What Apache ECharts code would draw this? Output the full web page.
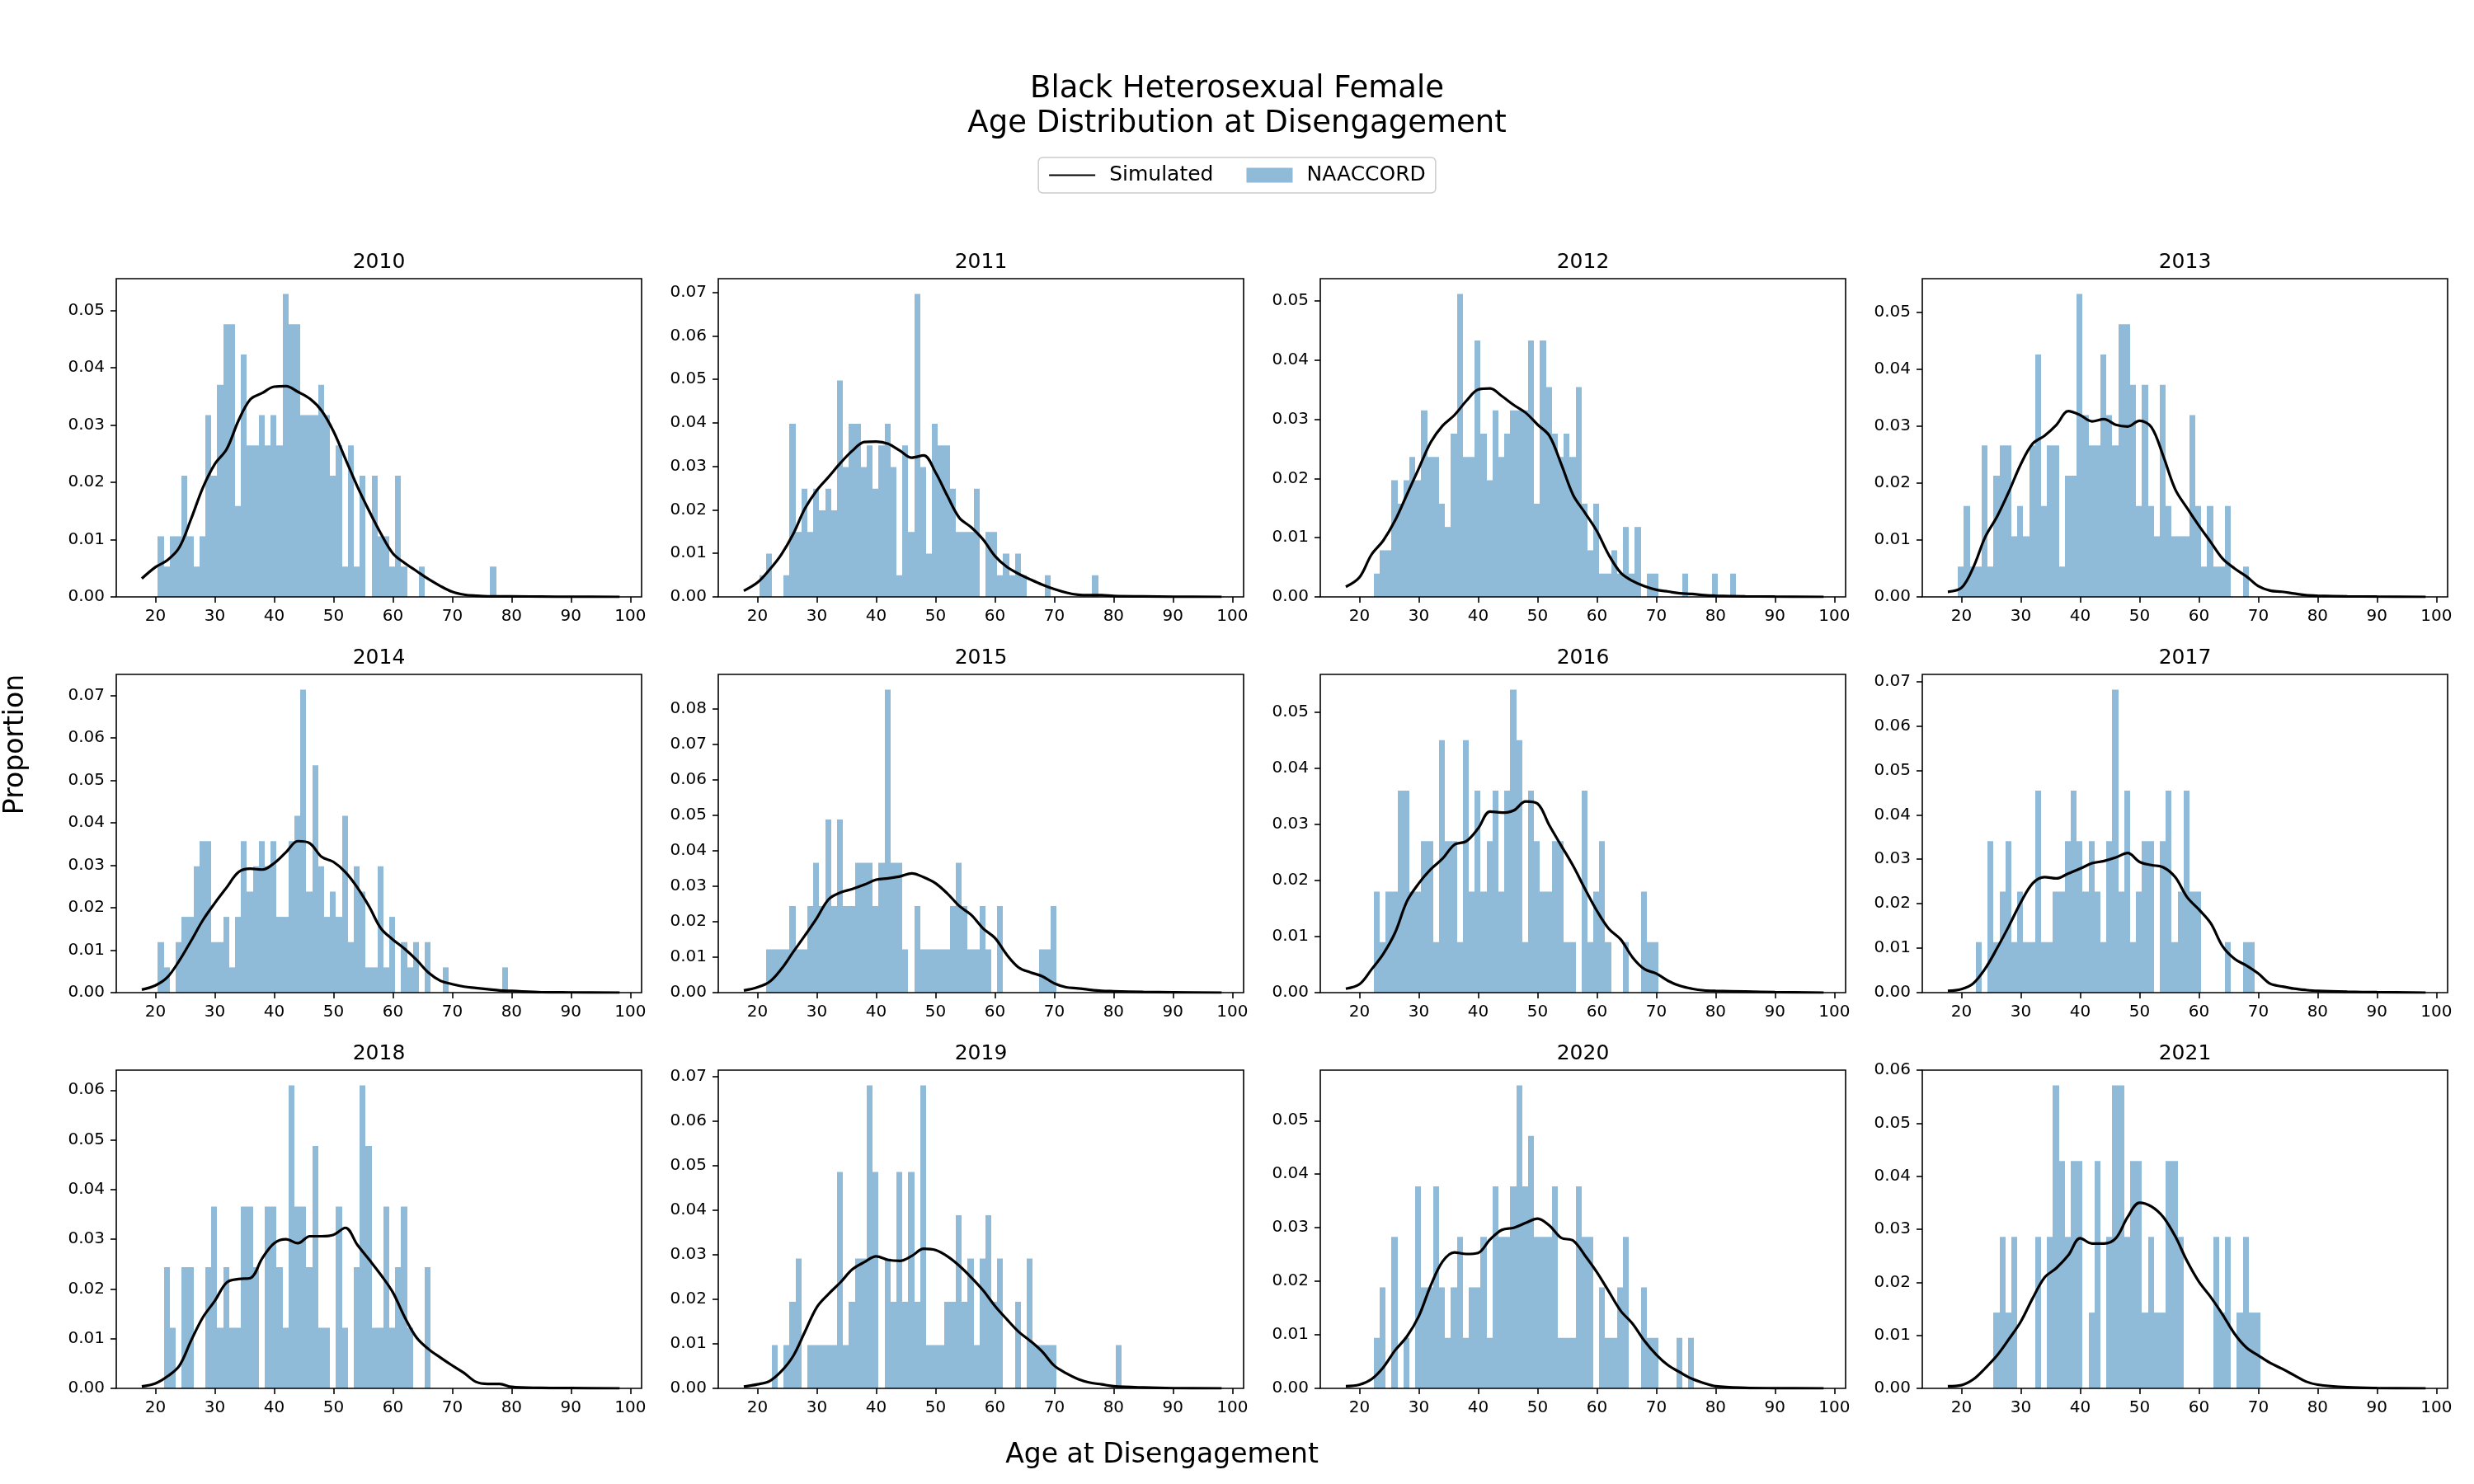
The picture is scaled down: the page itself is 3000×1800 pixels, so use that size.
<!doctype html>
<html lang="en">
<head>
<meta charset="UTF-8">
<title>Age Distribution at Disengagement</title>
<script src="https://cdn.jsdelivr.net/npm/echarts@6/dist/echarts.min.js"></script>
<style>
  html, body { margin: 0; padding: 0; background: #fff; }
  #chart { width: 3000px; height: 1800px; }
</style>
</head>
<body>
<div id="chart"></div>
<script>
// panels, one per year
var years = ['2010', '2011', '2012', '2013', '2014', '2015', '2016', '2017', '2018', '2019', '2020', '2021'];
// left edge of the first 1-year bin for each year
var binStart = [20.4, 20.4, 22.4, 19.4, 20.4, 21.4, 22.4, 22.4, 21.4, 22.4, 22.4, 25.4];
var binWidth = 1;
var ageTicks = [20, 30, 40, 50, 60, 70, 80, 90, 100];
var yTickTop = [0.05, 0.07, 0.05, 0.05, 0.07, 0.08, 0.05, 0.07, 0.06, 0.07, 0.05, 0.06];

// NAACCORD histogram counts per bin
var counts2010 = [2,1,2,2,4,2,1,2,6,4, 7,9,9,3,8,5,5,6,5,6, 5,10,9,9,6,6,6,7,6,4, 5,1,5,1,4,0,4,2,2,1, 4,1,0,0,1,0,0,0,0,0, 0,0,0,0,0,0,1];
var counts2011 = [1,2,0,0,1,8,3,5,3,5, 4,5,4,10,6,8,8,6,7,5, 7,8,6,1,7,3,14,6,2,8, 7,7,5,3,3,3,5,0,3,3, 1,2,1,2,1,0,0,0,1,0, 0,0,0,0,0,0,1];
var counts2012 = [1,2,2,5,4,5,6,5,8,6, 6,4,3,7,13,6,6,11,7,5, 8,6,7,8,8,8,11,4,11,9, 7,6,7,6,9,4,2,4,1,1, 2,1,3,1,3,0,1,1,0,0, 0,0,1,0,0,0,0,1,0,0, 1];
var counts2013 = [1,3,1,1,5,1,4,5,5,2, 3,2,5,8,3,5,5,1,4,4, 10,6,5,5,8,6,5,9,9,7, 3,7,3,2,7,3,2,2,2,6, 3,1,3,1,1,3,0,0,1];
var counts2014 = [2,1,0,2,3,3,5,6,6,2, 2,3,1,3,6,4,5,6,5,6, 3,3,6,7,12,4,9,5,3,4, 3,7,2,5,4,1,1,5,1,3, 0,2,1,2,0,2,0,0,1,0, 0,0,0,0,0,0,0,0,1];
var counts2015 = [1,1,1,1,2,1,1,2,3,2, 4,2,4,2,2,3,3,3,2,3, 7,3,3,1,0,2,1,1,1,1, 1,2,3,2,1,1,2,1,0,2, 0,0,0,0,0,0,1,1,2];
var counts2016 = [2,1,2,2,4,4,2,2,3,3, 1,5,3,3,1,5,2,4,2,3, 4,2,4,6,5,1,4,3,2,2, 3,3,1,1,0,4,1,2,3,1, 0,0,1,0,0,2,1,1];
var counts2017 = [1,0,3,1,2,3,1,2,1,1, 4,1,1,2,2,3,4,3,2,3, 2,1,3,6,2,4,1,2,3,3, 0,3,4,1,2,4,2,2,0,0, 0,0,1,0,0,1,1];
var counts2018 = [2,1,0,2,2,0,0,2,3,1, 2,1,1,3,3,2,0,3,3,2, 1,5,3,3,2,4,1,1,0,3, 1,0,2,5,4,1,1,3,1,2, 3,1,0,0,2];
var counts2019 = [1,0,1,2,3,0,1,1,1,1, 1,5,1,2,3,3,7,5,0,3, 2,5,2,5,2,7,1,1,1,2, 2,4,2,3,1,3,4,2,3,0, 0,2,0,3,1,1,1,1,0,0, 0,0,0,0,0,0,0,0,1];
var counts2020 = [1,2,0,3,0,1,0,4,2,2, 4,2,1,2,3,1,2,2,3,1, 4,3,3,4,6,4,5,3,3,3, 4,1,1,1,4,3,3,0,2,1, 1,2,3,0,0,2,1,1,0,0, 0,1,0,1];
var counts2021 = [1,2,1,2,0,0,0,2,0,2, 4,3,2,3,3,0,1,3,0,2, 4,4,2,3,3,1,2,1,1,3, 3,2,0,0,0,0,0,2,1,2, 0,1,2,1,1];

// simulated density curve, read at these ages
var kdeAges = [17.7, 20, 22, 24, 26, 28, 30, 32, 34, 36, 38, 40, 42, 44, 46, 48, 50, 52, 54, 56, 58, 60, 62, 64, 66, 68, 70, 72, 74, 76, 78, 80, 85, 90, 98.2];
var kde2010 = [0.0032,0.0052,0.0064,0.0086,0.0136,0.0191,0.0232,0.0258,0.0308,0.0345,0.0356,0.0367,0.0368,0.0358,0.0346,0.0325,0.0289,0.0241,0.0193,0.0150,0.0110,0.0076,0.0059,0.0045,0.0031,0.0019,0.0009,0.0004,0.0002,0.0001,0.0001,0.0001,0.00005,0.00002,0];
var kde2011 = [0.0014,0.0033,0.0062,0.0097,0.0144,0.0203,0.0245,0.0276,0.0308,0.0336,0.0356,0.0357,0.0352,0.0336,0.0320,0.0325,0.0286,0.0232,0.0182,0.0160,0.0132,0.0094,0.0069,0.0053,0.0040,0.0028,0.0018,0.0010,0.0005,0.0004,0.0004,0.0002,0.0001,0.00003,0];
var kde2012 = [0.0017,0.0033,0.0071,0.0095,0.0129,0.0173,0.0217,0.0261,0.0289,0.0307,0.0331,0.0350,0.0352,0.0339,0.0324,0.0311,0.0291,0.0272,0.0224,0.0172,0.0142,0.0111,0.0071,0.0041,0.0027,0.0018,0.0012,0.0009,0.0006,0.0005,0.0003,0.0002,0.0001,0.00005,0];
var kde2013 = [0.0009,0.0016,0.0052,0.0105,0.0141,0.0185,0.0233,0.0269,0.0283,0.0302,0.0326,0.0319,0.0308,0.0312,0.0302,0.0299,0.0309,0.0298,0.0247,0.0189,0.0156,0.0125,0.0096,0.0067,0.0050,0.0036,0.0019,0.0011,0.0009,0.0006,0.0003,0.0002,0.0001,0.00005,0];
var kde2014 = [0.0007,0.0017,0.0036,0.0075,0.0122,0.0171,0.0211,0.0248,0.0284,0.0292,0.0290,0.0305,0.0331,0.0357,0.0352,0.0320,0.0308,0.0284,0.0248,0.0203,0.0151,0.0125,0.0103,0.0077,0.0047,0.0028,0.0020,0.0014,0.0011,0.0008,0.0005,0.0004,0.0001,0.00005,0];
var kde2015 = [0.0006,0.0015,0.0030,0.0066,0.0114,0.0161,0.0210,0.0263,0.0282,0.0292,0.0304,0.0318,0.0322,0.0327,0.0336,0.0325,0.0308,0.0279,0.0244,0.0219,0.0181,0.0154,0.0107,0.0071,0.0057,0.0046,0.0026,0.0015,0.0012,0.0008,0.0005,0.0004,0.0002,0.0001,0];
var kde2016 = [0.0007,0.0015,0.0041,0.0069,0.0107,0.0163,0.0195,0.0220,0.0239,0.0264,0.0270,0.0293,0.0323,0.0321,0.0325,0.0341,0.0337,0.0298,0.0262,0.0226,0.0185,0.0146,0.0114,0.0095,0.0063,0.0042,0.0034,0.0021,0.0012,0.0007,0.0004,0.0003,0.0002,0.0001,0];
var kde2017 = [0.0004,0.0008,0.0021,0.0054,0.0100,0.0150,0.0203,0.0246,0.0260,0.0257,0.0268,0.0279,0.0291,0.0296,0.0304,0.0314,0.0294,0.0287,0.0282,0.0260,0.0215,0.0187,0.0156,0.0104,0.0076,0.0061,0.0043,0.0020,0.0014,0.0009,0.0006,0.0004,0.0002,0.0001,0];
var kde2018 = [0.0004,0.0010,0.0024,0.0045,0.0096,0.0143,0.0176,0.0213,0.0220,0.0222,0.0262,0.0292,0.0300,0.0292,0.0306,0.0306,0.0309,0.0323,0.0289,0.0259,0.0228,0.0193,0.0143,0.0102,0.0079,0.0062,0.0046,0.0031,0.0013,0.0009,0.0009,0.0003,0.0001,0.00005,0];
var kde2019 = [0.0004,0.0009,0.0016,0.0038,0.0072,0.0127,0.0182,0.0212,0.0238,0.0267,0.0283,0.0296,0.0288,0.0286,0.0297,0.0313,0.0310,0.0296,0.0275,0.0249,0.0220,0.0185,0.0155,0.0127,0.0106,0.0082,0.0051,0.0034,0.0021,0.0013,0.0009,0.0005,0.0002,0.00005,0];
var kde2020 = [0.0004,0.0007,0.0017,0.0039,0.0071,0.0097,0.0135,0.0192,0.0237,0.0254,0.0251,0.0253,0.0278,0.0296,0.0300,0.0309,0.0317,0.0304,0.0281,0.0276,0.0248,0.0217,0.0181,0.0145,0.0121,0.0089,0.0063,0.0043,0.0030,0.0018,0.0010,0.0004,0.0001,0.00003,0];
var kde2021 = [0.0004,0.0006,0.0017,0.0038,0.0062,0.0093,0.0126,0.0170,0.0209,0.0227,0.0251,0.0283,0.0273,0.0273,0.0283,0.0323,0.0350,0.0343,0.0323,0.0287,0.0240,0.0201,0.0172,0.0139,0.0103,0.0077,0.0062,0.0048,0.0037,0.0025,0.0013,0.0007,0.0002,0.00005,0];

var allCounts = [counts2010, counts2011, counts2012, counts2013, counts2014, counts2015,
                 counts2016, counts2017, counts2018, counts2019, counts2020, counts2021];
var allKde = [kde2010, kde2011, kde2012, kde2013, kde2014, kde2015,
              kde2016, kde2017, kde2018, kde2019, kde2020, kde2021];

// layout
var gridLeft = [141, 871, 1601, 2331];
var gridTop = [338, 818, 1298];
var gridW = 637, gridH = 386;
var FONT = 'DejaVu Sans';
var barColor = '#8fbbd9';

var myChart = echarts.init(document.getElementById('chart'), null, { renderer: 'canvas' });

// snap bin edges to whole pixels so neighbouring bins join without seams
function renderBar(params, api) {
    var top = api.coord([api.value(0), api.value(2)]);
    var bottom = api.coord([api.value(1), 0]);
    var x0 = Math.round(top[0]), x1 = Math.round(bottom[0]);
    return {
        type: 'rect',
        shape: { x: x0, y: top[1], width: x1 - x0, height: bottom[1] - top[1] },
        style: { fill: barColor }
    };
}

var grids = [], xAxes = [], yAxes = [], series = [];
var titles = [{
    text: 'Black Heterosexual Female\nAge Distribution at Disengagement',
    left: 'center',
    top: 87,
    padding: 0,
    textStyle: { fontFamily: FONT, fontSize: 37, fontWeight: 'normal', color: '#000', lineHeight: 42 }
}];

for (var k = 0; k < years.length; k++) {
    var row = Math.floor(k / 4), col = k % 4;
    var counts = allCounts[k];
    var total = 0;
    for (var i = 0; i < counts.length; i++) total += counts[i];

    var bars = [], hMax = 0;
    for (var i = 0; i < counts.length; i++) {
        if (!counts[i]) continue;
        var h = counts[i] / total;
        if (h > hMax) hMax = h;
        bars.push([binStart[k] + i * binWidth, binStart[k] + (i + 1) * binWidth, h]);
    }
    var line = [];
    for (var j = 0; j < kdeAges.length; j++) line.push([kdeAges[j], allKde[k][j]]);

    var yTicks = [];
    for (var t = 0; t <= Math.round(yTickTop[k] * 100); t++) yTicks.push(t / 100);
    var yMax = Math.max(hMax * 1.05, yTickTop[k] + 1e-7);

    grids.push({
        left: gridLeft[col], top: gridTop[row], width: gridW, height: gridH,
        show: true, borderColor: '#000', borderWidth: 1.6, backgroundColor: 'transparent', z: 5
    });
    titles.push({
        text: years[k],
        left: gridLeft[col] + gridW / 2,
        top: gridTop[row] - 32,
        padding: 0,
        textAlign: 'center',
        textStyle: { fontFamily: FONT, fontSize: 25, fontWeight: 'normal', color: '#000' }
    });
    xAxes.push({
        type: 'value', gridIndex: k, min: 13.4, max: 101.9,
        axisLine: { show: false },
        splitLine: { show: false },
        axisTick: { show: true, length: 7, customValues: ageTicks, lineStyle: { color: '#000', width: 1.6 } },
        axisLabel: { customValues: ageTicks, margin: 14, color: '#000', fontFamily: FONT, fontSize: 20 }
    });
    yAxes.push({
        type: 'value', gridIndex: k, min: 0, max: yMax,
        axisLine: { show: false },
        splitLine: { show: false },
        axisTick: { show: true, length: 7, customValues: yTicks, lineStyle: { color: '#000', width: 1.6 } },
        axisLabel: {
            customValues: yTicks, margin: 14, color: '#000', fontFamily: FONT, fontSize: 20,
            formatter: function (v) { return v.toFixed(2); }
        }
    });
    series.push({
        name: 'NAACCORD', type: 'custom', xAxisIndex: k, yAxisIndex: k,
        renderItem: renderBar, encode: { x: [0, 1], y: 2 },
        itemStyle: { color: barColor },
        data: bars, silent: true
    });
    series.push({
        name: 'Simulated', type: 'line', xAxisIndex: k, yAxisIndex: k,
        data: line, symbol: 'none', smooth: 0.35,
        lineStyle: { color: '#000', width: 3.2 },
        itemStyle: { color: '#000' },
        silent: true, z: 3
    });
}

var option = {
    backgroundColor: '#fff',
    animation: false,
    title: titles,
    legend: {
        data: [
            { name: 'Simulated', itemStyle: { opacity: 0 } },
            { name: 'NAACCORD', icon: 'rect' }
        ],
        left: 'center', top: 191,
        itemWidth: 56, itemHeight: 18, itemGap: 40,
        padding: [9, 12],
        borderColor: '#cccccc', borderWidth: 1.5, borderRadius: 5,
        backgroundColor: '#fff',
        textStyle: { fontFamily: FONT, fontSize: 25, color: '#000', padding: [0, 0, 0, 12] }
    },
    grid: grids,
    xAxis: xAxes,
    yAxis: yAxes,
    series: series,
    graphic: [
        {
            type: 'text', x: 19, y: 903, rotation: Math.PI / 2,
            style: { text: 'Proportion', font: '33px "DejaVu Sans"', fill: '#000', align: 'center', verticalAlign: 'middle' }
        },
        {
            type: 'text', x: 1409, y: 1765,
            style: { text: 'Age at Disengagement', font: '33px "DejaVu Sans"', fill: '#000', align: 'center', verticalAlign: 'middle' }
        }
    ]
};

myChart.setOption(option);
</script>
</body>
</html>
